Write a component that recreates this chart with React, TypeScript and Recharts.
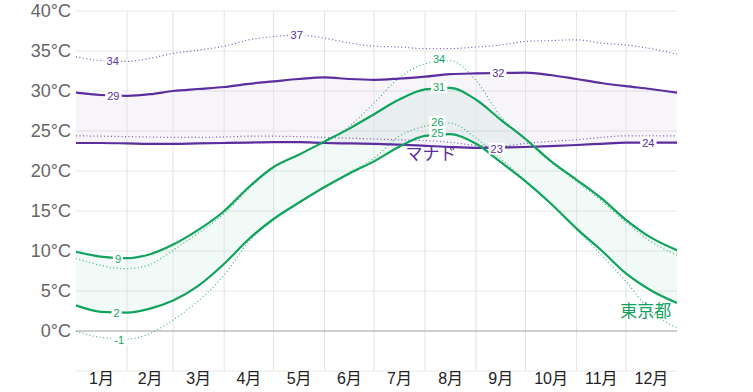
import React from "react";
import {
  Area,
  CartesianGrid,
  ComposedChart,
  Line,
  ReferenceDot,
  ReferenceLine,
  XAxis,
  YAxis,
} from "recharts";

// day of year for each sample
const DAYS = [0, 15, 31, 45, 59, 74, 90, 105, 120, 135, 151, 166, 181, 196, 212, 227, 243, 258, 273, 288, 304, 319, 334, 349, 365];

// 東京都
const TOKYO_HIGH = [9.9, 9.3, 9.1, 9.6, 10.8, 12.6, 15.0, 18.0, 20.5, 22.0, 23.7, 25.3, 27.1, 28.9, 30.2, 30.4, 28.9, 26.4, 24.0, 21.3, 18.9, 16.6, 13.9, 11.7, 10.1];
const TOKYO_LOW = [3.2, 2.4, 2.3, 2.8, 3.8, 5.6, 8.4, 11.5, 14.0, 16.0, 18.0, 19.7, 21.2, 23.0, 24.4, 24.6, 23.4, 21.1, 18.7, 16.0, 12.8, 10.1, 7.2, 5.1, 3.5];
const TOKYO_FEEL_HIGH = [9.1, 8.2, 7.8, 8.3, 10.1, 12.2, 14.7, 17.8, 20.4, 22.0, 23.6, 25.6, 28.5, 31.6, 33.4, 33.8, 31.3, 26.8, 23.9, 21.2, 18.7, 16.3, 13.6, 11.2, 9.5];
const TOKYO_FEEL_LOW = [0.0, -0.8, -1.0, -0.3, 1.4, 3.7, 7.0, 11.2, 13.9, 16.0, 18.0, 19.8, 21.6, 24.3, 25.6, 26.0, 24.1, 21.5, 18.8, 16.0, 12.7, 9.5, 6.2, 2.5, 0.4];

// マナド
const MANADO_HIGH = [29.8, 29.5, 29.4, 29.6, 30.0, 30.25, 30.5, 30.9, 31.2, 31.5, 31.7, 31.5, 31.4, 31.55, 31.8, 32.1, 32.2, 32.25, 32.3, 32.0, 31.5, 31.0, 30.6, 30.25, 29.8];
const MANADO_LOW = [23.5, 23.5, 23.45, 23.4, 23.4, 23.45, 23.5, 23.55, 23.6, 23.6, 23.5, 23.45, 23.4, 23.3, 23.15, 23.0, 22.9, 22.95, 23.0, 23.1, 23.25, 23.4, 23.55, 23.55, 23.55];
const MANADO_FEEL_HIGH = [34.3, 33.8, 33.7, 34.1, 34.7, 35.1, 35.6, 36.4, 36.8, 37.0, 36.6, 36.0, 35.6, 35.5, 35.3, 35.3, 35.5, 35.75, 36.2, 36.3, 36.4, 36.0, 35.75, 35.3, 34.6];
const MANADO_FEEL_LOW = [24.4, 24.35, 24.3, 24.25, 24.2, 24.2, 24.25, 24.35, 24.35, 24.3, 24.2, 24.1, 24.0, 23.9, 23.8, 23.6, 23.2, 23.1, 23.45, 23.7, 23.9, 24.2, 24.4, 24.4, 24.4];

const MONTHS = ["1月", "2月", "3月", "4月", "5月", "6月", "7月", "8月", "9月", "10月", "11月", "12月"];
const MONTH_MID = [15.5, 45, 74.5, 105, 135.5, 166, 196.5, 227.5, 258, 288.5, 319, 349.5];
const MONTH_EDGES = [31, 59, 90, 120, 151, 181, 212, 243, 273, 304, 334];
const TEMP_TICKS = [0, 5, 10, 15, 20, 25, 30, 35, 40];

const TOKYO_TAGS = [
  { day: 25.5, t: 9.0, text: "9" },
  { day: 24.7, t: 2.2, text: "2" },
  { day: 26.3, t: -1.1, text: "-1" },
  { day: 220.5, t: 34.0, text: "34" },
  { day: 220.5, t: 30.5, text: "31" },
  { day: 219.5, t: 26.1, text: "26" },
  { day: 219.5, t: 24.7, text: "25" },
];
const MANADO_TAGS = [
  { day: 22.3, t: 33.7, text: "34" },
  { day: 22.7, t: 29.4, text: "29" },
  { day: 134, t: 37.0, text: "37" },
  { day: 256.5, t: 32.2, text: "32" },
  { day: 255.5, t: 22.8, text: "23" },
  { day: 347.6, t: 23.55, text: "24" },
];

const PURPLE = "#5b2d9e";
const GREEN = "#10a35e";
const FONT = "'Liberation Sans', Arial, 'Noto Sans CJK JP', sans-serif";

const rows = DAYS.map((day, i) => ({
  day,
  tHigh: TOKYO_HIGH[i],
  tLow: TOKYO_LOW[i],
  tFeelHigh: TOKYO_FEEL_HIGH[i],
  tFeelLow: TOKYO_FEEL_LOW[i],
  tBand: [TOKYO_LOW[i], TOKYO_HIGH[i]],
  mHigh: MANADO_HIGH[i],
  mLow: MANADO_LOW[i],
  mFeelHigh: MANADO_FEEL_HIGH[i],
  mFeelLow: MANADO_FEEL_LOW[i],
  mBand: [MANADO_LOW[i], MANADO_HIGH[i]],
}));

function valueTag(text: string, color: string) {
  return (p: any) => {
    const w = text.length * 6.2 + 4;
    return (
      <g>
        <rect x={p.cx - w / 2} y={p.cy - 6} width={w} height={12} fill="#fff" />
        <text x={p.cx} y={p.cy + 4} textAnchor="middle" fontSize={11} fill={color} fontFamily={FONT}>
          {text}
        </text>
      </g>
    );
  };
}

function nameTag(text: string, color: string) {
  return (p: any) => (
    <text x={p.cx} y={p.cy + 6} textAnchor="middle" fontSize={17} fill={color} fontFamily={FONT}>
      {text}
    </text>
  );
}

function MonthTick({ x, y, payload }: any) {
  const i = MONTH_MID.indexOf(payload.value);
  return (
    <text x={x} y={y + 13} textAnchor="middle" fontSize={16} fill="#222" fontFamily={FONT}>
      {MONTHS[i]}
    </text>
  );
}

export default function App() {
  return (
    <div style={{ position: "absolute", left: 0, top: 0 }}>
      <ComposedChart width={753} height={392} data={rows} margin={{ top: 11, right: 0, bottom: 0, left: 0 }}>
        <CartesianGrid yAxisId="l" stroke="#e8e8e8" vertical={false} />
        <XAxis
          dataKey="day"
          type="number"
          domain={[0, 365]}
          ticks={MONTH_MID}
          tick={<MonthTick />}
          tickLine={false}
          axisLine={false}
          tickSize={0}
          tickMargin={0}
          height={21}
          interval={0}
        />
        <YAxis
          yAxisId="l"
          domain={[-5, 40]}
          ticks={TEMP_TICKS}
          tickFormatter={(v: number) => `${v}°C`}
          tick={{ fill: "#666", fontSize: 18, fontFamily: FONT }}
          tickLine={false}
          axisLine={false}
          tickSize={0}
          tickMargin={5}
          width={76}
          interval={0}
        />
        <YAxis
          yAxisId="r"
          orientation="right"
          domain={[-5, 40]}
          ticks={TEMP_TICKS}
          tickFormatter={(v: number) => `${v}°C`}
          tick={{ fill: "#666", fontSize: 18, fontFamily: FONT }}
          tickLine={false}
          axisLine={false}
          tickSize={0}
          tickMargin={5}
          width={76}
          interval={0}
        />
        {MONTH_EDGES.map((d) => (
          <ReferenceLine key={d} x={d} yAxisId="l" stroke="#e3e3e3" />
        ))}
        <ReferenceLine y={0} yAxisId="l" stroke="#a8a8a8" />

        <Area yAxisId="l" type="monotone" dataKey="mBand" stroke="none" fill={PURPLE} fillOpacity={0.05} isAnimationActive={false} />
        <Area yAxisId="l" type="monotone" dataKey="tBand" stroke="none" fill={GREEN} fillOpacity={0.06} isAnimationActive={false} />

        <Line yAxisId="l" type="monotone" dataKey="mFeelHigh" stroke={PURPLE} strokeOpacity={0.8} strokeWidth={1.2} strokeDasharray="1 2.5" dot={false} isAnimationActive={false} />
        <Line yAxisId="l" type="monotone" dataKey="mFeelLow" stroke={PURPLE} strokeOpacity={0.8} strokeWidth={1.2} strokeDasharray="1 2.5" dot={false} isAnimationActive={false} />
        <Line yAxisId="l" type="monotone" dataKey="tFeelHigh" stroke={GREEN} strokeOpacity={0.8} strokeWidth={1.2} strokeDasharray="1 2.5" dot={false} isAnimationActive={false} />
        <Line yAxisId="l" type="monotone" dataKey="tFeelLow" stroke={GREEN} strokeOpacity={0.8} strokeWidth={1.2} strokeDasharray="1 2.5" dot={false} isAnimationActive={false} />

        <Line yAxisId="l" type="monotone" dataKey="mHigh" stroke={PURPLE} strokeWidth={2.2} dot={false} isAnimationActive={false} />
        <Line yAxisId="l" type="monotone" dataKey="mLow" stroke={PURPLE} strokeWidth={2.2} dot={false} isAnimationActive={false} />
        <Line yAxisId="l" type="monotone" dataKey="tHigh" stroke={GREEN} strokeWidth={2.2} dot={false} isAnimationActive={false} />
        <Line yAxisId="l" type="monotone" dataKey="tLow" stroke={GREEN} strokeWidth={2.2} dot={false} isAnimationActive={false} />

        {MANADO_TAGS.map((g) => (
          <ReferenceDot key={"m" + g.text + g.day} yAxisId="l" x={g.day} y={g.t} shape={valueTag(g.text, PURPLE)} />
        ))}
        {TOKYO_TAGS.map((g) => (
          <ReferenceDot key={"t" + g.text + g.day} yAxisId="l" x={g.day} y={g.t} shape={valueTag(g.text, GREEN)} />
        ))}
        <ReferenceDot yAxisId="l" x={215.6} y={22.1} shape={nameTag("マナド", PURPLE)} />
        <ReferenceDot yAxisId="l" x={346} y={2.5} shape={nameTag("東京都", GREEN)} />
      </ComposedChart>
    </div>
  );
}
